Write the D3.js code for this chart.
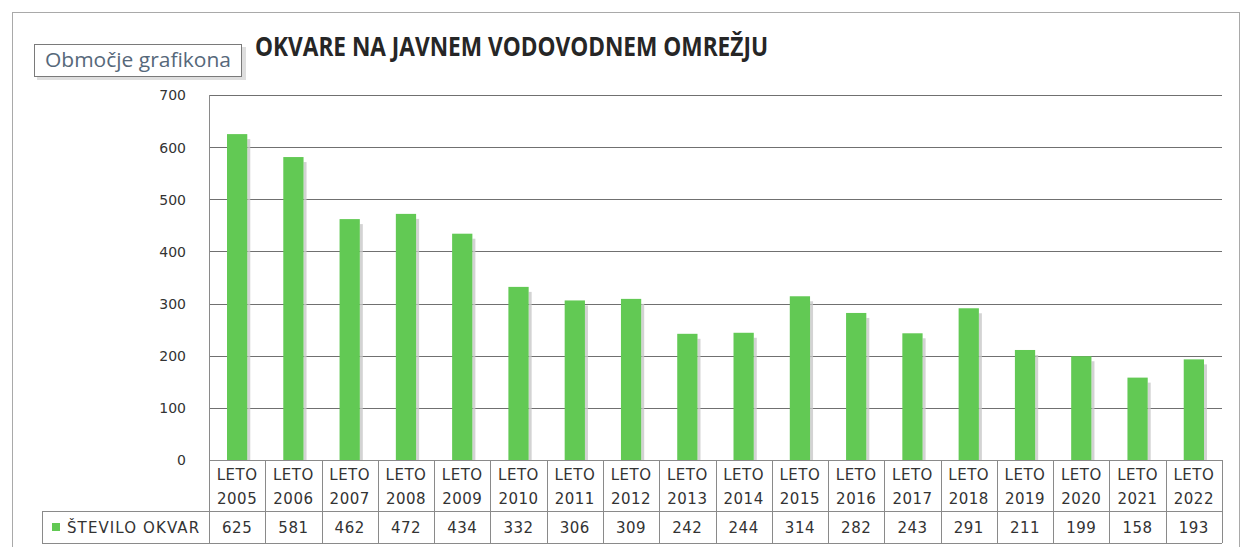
<!DOCTYPE html>
<html>
<head>
<meta charset="utf-8">
<script src="https://cdn.jsdelivr.net/npm/d3@7"></script>
<style>
  html, body { margin: 0; padding: 0; background: #fff; }
  svg { display: block; }
</style>
</head>
<body>
<svg id="chart" width="1243" height="547"></svg>
<script>
const title = "OKVARE NA JAVNEM VODOVODNEM OMREŽJU";
const tooltipLabel = "Območje grafikona";
const seriesName = "ŠTEVILO OKVAR";
const categoryPrefix = "LETO";
const years = ["2005","2006","2007","2008","2009","2010","2011","2012","2013","2014","2015","2016","2017","2018","2019","2020","2021","2022"];
const values = [625, 581, 462, 472, 434, 332, 306, 309, 242, 244, 314, 282, 243, 291, 211, 199, 158, 193];
const yTicks = [0, 100, 200, 300, 400, 500, 600, 700];

const svg = d3.select("#chart");
const plot = {left: 209, right: 1222, top: 95, bottom: 460};
const tableRow1Bottom = 511, tableRow2Bottom = 543, legendLeft = 42;
const barColor = "#62c954";
const gridColor = "#707070";
const borderColor = "#8a8a8a";
const textColor = "#333";

// outer chart area border
svg.append("rect").attr("x", 12.5).attr("y", 12.5).attr("width", 1227).attr("height", 545)
  .attr("fill", "#fff").attr("stroke", "#a9a9a9").attr("stroke-width", 1);

const x = d3.scaleBand().domain(years).range([plot.left, plot.right]).paddingInner(0.64).paddingOuter(0.32);
const xCol = d3.scaleBand().domain(years).range([plot.left, plot.right]).padding(0);
const y = d3.scaleLinear().domain([0, 700]).range([plot.bottom, plot.top]);

// gridlines
svg.append("g").selectAll("line").data(yTicks.filter(d => d > 0)).join("line")
  .attr("x1", plot.left).attr("x2", plot.right)
  .attr("y1", d => Math.round(y(d)) + 0.5).attr("y2", d => Math.round(y(d)) + 0.5)
  .attr("stroke", gridColor).attr("stroke-width", 1);

// y axis labels
const yAxis = d3.axisLeft(y).tickValues(yTicks).tickSize(0).tickPadding(0);
const yg = svg.append("g").attr("transform", `translate(${plot.left - 23},0)`).call(yAxis);
yg.select(".domain").remove();
yg.selectAll("text").attr("font-family", "DejaVu Sans").attr("font-size", 14).attr("fill", textColor)
  .attr("dy", "0.35em");

// plot left border
svg.append("line").attr("x1", plot.left + 0.5).attr("x2", plot.left + 0.5)
  .attr("y1", plot.top).attr("y2", plot.bottom).attr("stroke", borderColor);

// bar shadows
svg.append("g").selectAll("rect").data(years).join("rect")
  .attr("x", d => x(d) + x.bandwidth())
  .attr("y", (d, i) => y(values[i]) + 5)
  .attr("width", 3)
  .attr("height", (d, i) => plot.bottom - y(values[i]) - 5)
  .attr("fill", "#c8c8c8").attr("opacity", 0.8);

// bars
svg.append("g").selectAll("rect").data(years).join("rect")
  .attr("x", d => x(d))
  .attr("y", (d, i) => y(values[i]))
  .attr("width", x.bandwidth())
  .attr("height", (d, i) => plot.bottom - y(values[i]))
  .attr("fill", barColor);

// data table
const tg = svg.append("g");
tg.append("line").attr("x1", plot.left).attr("x2", plot.right).attr("y1", plot.bottom + 0.5).attr("y2", plot.bottom + 0.5).attr("stroke", borderColor);
tg.append("line").attr("x1", legendLeft).attr("x2", plot.right).attr("y1", tableRow1Bottom + 0.5).attr("y2", tableRow1Bottom + 0.5).attr("stroke", borderColor);
tg.append("line").attr("x1", legendLeft).attr("x2", plot.right).attr("y1", tableRow2Bottom + 0.5).attr("y2", tableRow2Bottom + 0.5).attr("stroke", borderColor);
tg.append("line").attr("x1", legendLeft + 0.5).attr("x2", legendLeft + 0.5).attr("y1", tableRow1Bottom).attr("y2", tableRow2Bottom).attr("stroke", borderColor);
const colEdges = years.map(d => xCol(d)).concat([plot.right]);
tg.selectAll("line.v").data(colEdges).join("line").attr("class", "v")
  .attr("x1", d => Math.round(d) + 0.5).attr("x2", d => Math.round(d) + 0.5)
  .attr("y1", plot.bottom).attr("y2", tableRow2Bottom).attr("stroke", borderColor);

const cellFont = {family: "DejaVu Sans", size: 15};
const head = tg.selectAll("text.h").data(years).join("text").attr("class", "h")
  .attr("x", d => xCol(d) + xCol.bandwidth() / 2)
  .attr("text-anchor", "middle")
  .attr("font-family", cellFont.family).attr("font-size", cellFont.size)
  .attr("letter-spacing", 0.5).attr("fill", textColor);
head.append("tspan").attr("x", d => xCol(d) + xCol.bandwidth() / 2).attr("y", 480).text(categoryPrefix);
head.append("tspan").attr("x", d => xCol(d) + xCol.bandwidth() / 2).attr("y", 504).text(d => d);

tg.selectAll("text.v").data(years).join("text").attr("class", "v")
  .attr("x", d => xCol(d) + xCol.bandwidth() / 2).attr("y", 533)
  .attr("text-anchor", "middle")
  .attr("font-family", cellFont.family).attr("font-size", cellFont.size)
  .attr("letter-spacing", 0.5).attr("fill", textColor)
  .text((d, i) => values[i]);

// legend in table
tg.append("rect").attr("x", 52).attr("y", 523).attr("width", 8).attr("height", 8).attr("fill", barColor);
tg.append("text").attr("x", 67).attr("y", 533)
  .attr("font-family", cellFont.family).attr("font-size", cellFont.size)
  .attr("letter-spacing", 1.1).attr("fill", textColor).text(seriesName);

// title
svg.append("text").attr("x", 255).attr("y", 56)
  .attr("font-family", "Open Sans").attr("font-weight", "bold").attr("font-size", 27)
  .attr("fill", "#262626")
  .attr("textLength", 513).attr("lengthAdjust", "spacingAndGlyphs")
  .text(title);

// tooltip box "Območje grafikona"
const tt = svg.append("g");
tt.append("rect").attr("x", 37).attr("y", 47).attr("width", 209).attr("height", 33).attr("fill", "#d0d0d0").attr("opacity", 0.7);
tt.append("rect").attr("x", 34.5).attr("y", 44.5).attr("width", 207).attr("height", 32)
  .attr("fill", "#fff").attr("stroke", "#7a7a7a");
tt.append("text").attr("x", 45).attr("y", 67)
  .attr("font-family", "Open Sans").attr("font-size", 20).attr("fill", "#56687a")
  .attr("textLength", 186).attr("lengthAdjust", "spacingAndGlyphs")
  .text(tooltipLabel);
</script>
</body>
</html>
